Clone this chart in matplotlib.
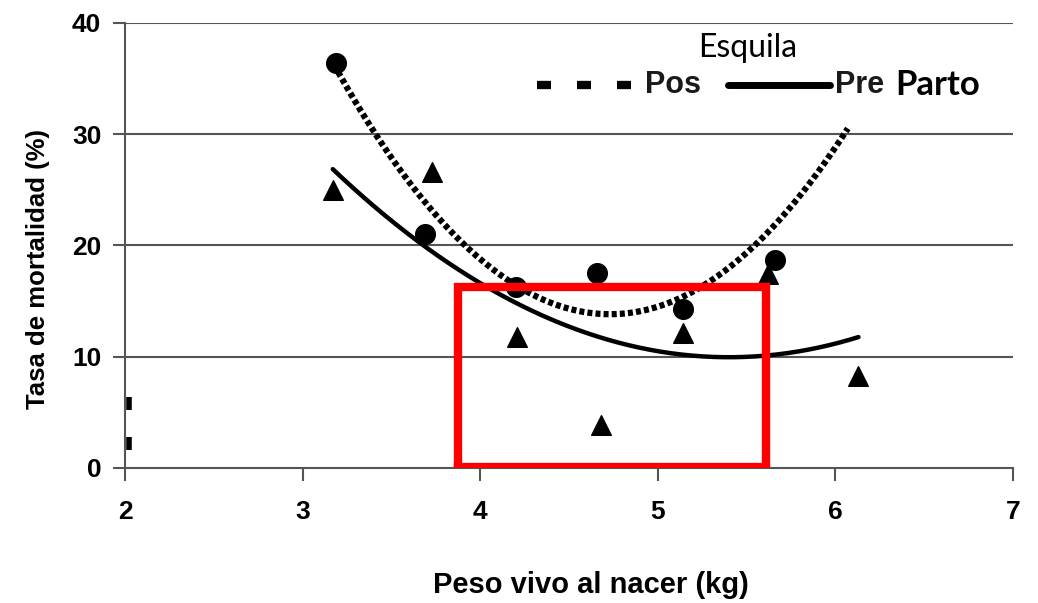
import matplotlib.pyplot as plt
import numpy as np

# birth weight (kg) vs mortality (%)
pos_x = [3.19, 3.69, 4.20, 4.66, 5.14, 5.66]
pos_y = [36.4, 21.0, 16.3, 17.5, 14.3, 18.7]
pre_x = [3.17, 3.73, 4.21, 4.68, 5.14, 5.62, 6.13]
pre_y = [25.0, 26.6, 11.8, 3.9, 12.1, 17.4, 8.3]

# quadratic trend coefficients (a, b, c)
pos_fit = [9.3, -87.98, 221.9]
pre_fit = [3.40, -36.72, 109.1]
pos_range = [3.2, 6.07]
pre_range = [3.17, 6.13]

xticks = [2, 3, 4, 5, 6, 7]
yticks = [0, 10, 20, 30, 40]

# highlight box (x0, x1, y0, y1)
box = [3.875, 5.61, 0.1, 16.3]

grey = '#555555'
plt.rcParams['font.family'] = ['Liberation Sans', 'DejaVu Sans']

fig = plt.figure(figsize=(10.38, 6.03), dpi=100)
ax = fig.add_axes([0.1204, 0.2239, 0.8555, 0.738])

for y in yticks[1:]:
    ax.axhline(y, color=grey, lw=1.5, zorder=1)

xx = np.linspace(pos_range[0], pos_range[1], 200)
ax.plot(xx, np.polyval(pos_fit, xx), color='black', lw=4.5,
        ls=(0, (0.8, 0.5)), zorder=3)
xx = np.linspace(pre_range[0], pre_range[1], 200)
ax.plot(xx, np.polyval(pre_fit, xx), color='black', lw=3.2,
        solid_capstyle='round', zorder=3)

ax.scatter(pos_x, pos_y, marker='o', s=200, color='black', zorder=4)
ax.scatter(pre_x, pre_y, marker='^', s=200, color='black', zorder=4)

ax.plot([box[0], box[1], box[1], box[0], box[0]],
        [box[2], box[2], box[3], box[3], box[2]],
        color='#ff0000', lw=6, solid_joinstyle='miter', zorder=5)

# stray marks next to the y axis
ax.plot([2.02, 2.02], [5.2, 6.4], color='black', lw=4, solid_capstyle='butt')
ax.plot([2.02, 2.02], [1.6, 2.8], color='black', lw=4, solid_capstyle='butt')

ax.set_xlim(2, 7)
ax.set_ylim(0, 40)
ax.set_xticks(xticks)
ax.set_yticks(yticks)
ax.tick_params(direction='out', length=9, width=1.5, color=grey,
               labelsize=19)
ax.tick_params(axis='x', pad=14)
ax.tick_params(axis='y', pad=8)
for lab in ax.get_xticklabels() + ax.get_yticklabels():
    lab.set_fontweight('bold')
for s in ['top', 'right']:
    ax.spines[s].set_visible(False)
for s in ['left', 'bottom']:
    ax.spines[s].set_color(grey)
    ax.spines[s].set_linewidth(1.5)

fig.text(0.569, 0.030, 'Peso vivo al nacer (kg)', fontsize=21,
         fontweight='bold', ha='center', va='center')
fig.text(0.0366, 0.554, 'Tasa de mortalidad (%)', fontsize=18.5,
         fontweight='bold', ha='center', va='center', rotation=90)

# legend built by hand
ly = 0.861
ax.text(0.7016, 0.944, 'Esquila', transform=ax.transAxes, fontsize=23,
        family=['Lato', 'DejaVu Sans'], ha='center', va='center')
for x0 in [0.4645, 0.5095, 0.5545]:
    ax.plot([x0, x0 + 0.015], [ly, ly], transform=ax.transAxes,
            color='black', lw=6, solid_capstyle='butt', clip_on=False)
ax.text(0.5856, ly, 'Pos', transform=ax.transAxes, fontsize=22,
        fontweight='bold', va='center', color='#1a1a1a')
ax.plot([0.679, 0.794], [ly, ly], transform=ax.transAxes,
        color='black', lw=5, solid_capstyle='round', clip_on=False)
ax.text(0.7995, ly, 'Pre', transform=ax.transAxes, fontsize=22,
        fontweight='bold', va='center', color='#1a1a1a')
ax.text(0.867, ly, 'Parto', transform=ax.transAxes, fontsize=25,
        fontweight='bold', family=['Lato', 'DejaVu Sans'], va='center')

fig.savefig('out.png', dpi=100)
plt.close(fig)
